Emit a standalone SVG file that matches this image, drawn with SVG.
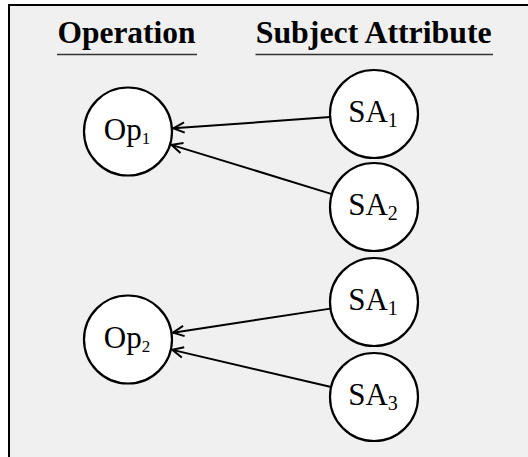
<svg xmlns="http://www.w3.org/2000/svg" width="528" height="457" viewBox="0 0 528 457">
  <style>
    .frame { fill: #f0f0f0; stroke: #000; stroke-width: 2; }
    .node { fill: #fff; stroke: #000; stroke-width: 2.2; }
    .label { font-family: "Liberation Serif", "Times New Roman", serif; font-size: 31px; fill: #000; text-anchor: middle; }
    .sub { font-size: 20px; }
    .subsm { font-size: 17px; }
    .head { font-family: "Liberation Serif", "Times New Roman", serif; font-size: 31px; font-weight: bold; fill: #000; text-anchor: middle; }
    .rule { stroke: #333; stroke-width: 1.6; }
    .edge { stroke: #000; stroke-width: 2; fill: none; }
  </style>
  <defs>
    <marker id="arrow" markerUnits="userSpaceOnUse" markerWidth="16" markerHeight="16" viewBox="-13 -8 16 16" refX="0" refY="0" orient="auto">
      <path d="M -11 -5.2 L 0 0 L -11 5.2" fill="none" stroke="#000" stroke-width="2"/>
    </marker>
  </defs>

  <!-- panel background -->
  <rect class="frame" x="9" y="5" width="600" height="600"/>

  <!-- column headings -->
  <g id="heading-operation">
    <text class="head" x="126.5" y="43.3" textLength="138" lengthAdjust="spacingAndGlyphs">Operation</text>
    <line class="rule" x1="57" y1="54.5" x2="197" y2="54.5"/>
  </g>
  <g id="heading-subject">
    <text class="head" x="373.7" y="43.3" textLength="236" lengthAdjust="spacingAndGlyphs">Subject Attribute</text>
    <line class="rule" x1="255.5" y1="54.5" x2="493" y2="54.5"/>
  </g>

  <!-- connectors -->
  <g id="edges">
    <line class="edge" x1="330.11" y1="117.12" x2="173.39" y2="128.27" marker-end="url(#arrow)"/>
    <line class="edge" x1="331.94" y1="194.09" x2="171.50" y2="144.85" marker-end="url(#arrow)"/>
    <line class="edge" x1="330.50" y1="308.63" x2="172.98" y2="332.64" marker-end="url(#arrow)"/>
    <line class="edge" x1="331.15" y1="386.99" x2="172.31" y2="349.86" marker-end="url(#arrow)"/>
  </g>

  <!-- operation nodes -->
  <g id="op1">
    <circle class="node" cx="128" cy="131.5" r="44"/>
    <text class="label" x="127" y="140">Op<tspan class="subsm" dy="4">1</tspan></text>
  </g>
  <g id="op2">
    <circle class="node" cx="128" cy="339.5" r="44"/>
    <text class="label" x="127" y="348">Op<tspan class="subsm" dy="4">2</tspan></text>
  </g>

  <!-- subject attribute nodes -->
  <g id="sa1-a">
    <circle class="node" cx="374" cy="114" r="44"/>
    <text class="label" x="373" y="122.3">SA<tspan class="sub" dy="4.4">1</tspan></text>
  </g>
  <g id="sa2">
    <circle class="node" cx="374" cy="207" r="44"/>
    <text class="label" x="373" y="215.3">SA<tspan class="sub" dy="4.4">2</tspan></text>
  </g>
  <g id="sa1-b">
    <circle class="node" cx="374" cy="302" r="44"/>
    <text class="label" x="373" y="310.3">SA<tspan class="sub" dy="4.4">1</tspan></text>
  </g>
  <g id="sa3">
    <circle class="node" cx="374" cy="397" r="44"/>
    <text class="label" x="373" y="405.3">SA<tspan class="sub" dy="4.4">3</tspan></text>
  </g>
</svg>
